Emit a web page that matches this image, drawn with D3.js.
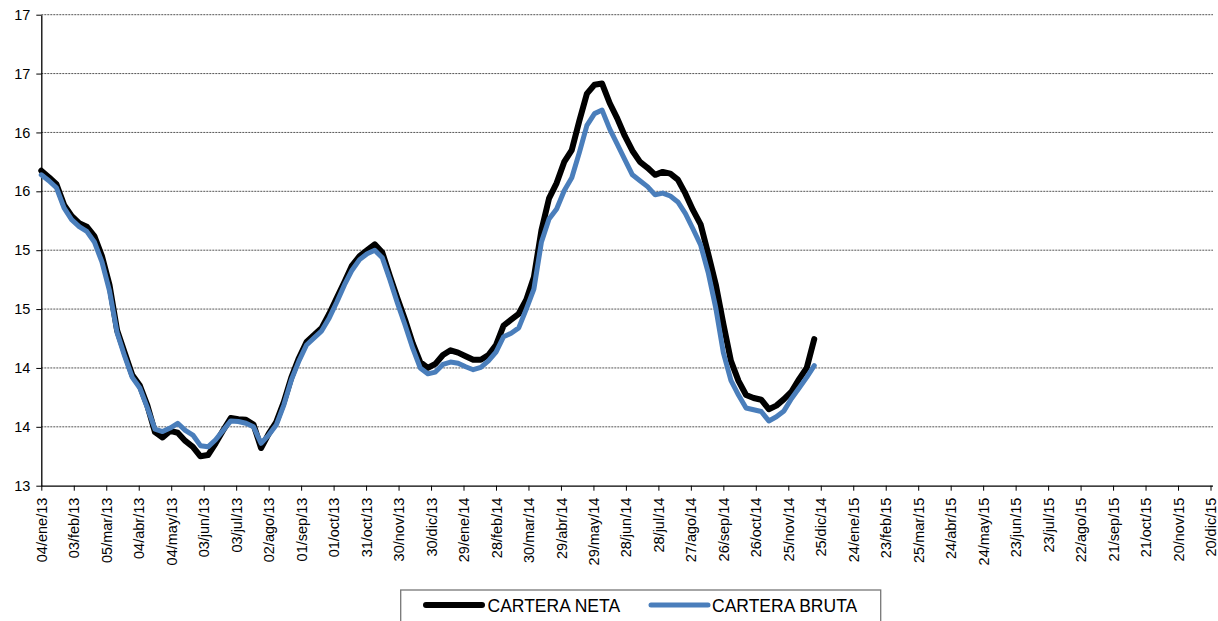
<!DOCTYPE html>
<html>
<head>
<meta charset="utf-8">
<script src="https://cdn.jsdelivr.net/npm/d3@7/dist/d3.min.js"></script>
<style>
  html, body { margin: 0; padding: 0; background: #fff; }
  svg { display: block; font-family: "Liberation Sans", Arial, sans-serif; }
</style>
</head>
<body>
<svg id="chart" width="1218" height="621"></svg>
<script>
// Weekly series, first observation on 04/ene/2013
const startDate = "2013-01-04";

const carteraNeta = [
  15.675, 15.62, 15.56, 15.385, 15.29, 15.23, 15.20, 15.12, 14.95, 14.705,
  14.32, 14.13, 13.94, 13.85, 13.68, 13.455, 13.41, 13.465, 13.45, 13.38,
  13.33, 13.25, 13.26, 13.36, 13.47, 13.575, 13.565, 13.56, 13.52, 13.32,
  13.44, 13.54, 13.71, 13.92, 14.085, 14.22, 14.28, 14.34, 14.46, 14.595,
  14.73, 14.87, 14.95, 15.00, 15.05, 14.98, 14.78, 14.59, 14.41, 14.21,
  14.05, 14.00, 14.035, 14.11, 14.15, 14.13, 14.10, 14.07, 14.07, 14.11,
  14.195, 14.36, 14.41, 14.46, 14.58, 14.77, 15.17, 15.44, 15.57, 15.75,
  15.85, 16.10, 16.33, 16.405, 16.415, 16.25, 16.12, 15.97, 15.845, 15.75,
  15.70, 15.64, 15.665, 15.65, 15.60, 15.48, 15.34, 15.22, 14.97, 14.71,
  14.375, 14.06, 13.89, 13.77, 13.745, 13.73, 13.65, 13.68, 13.735, 13.80,
  13.905, 14.00, 14.245
];

const carteraBruta = [
  15.64, 15.59, 15.53, 15.36, 15.26, 15.20, 15.16, 15.07, 14.90, 14.655,
  14.30, 14.10, 13.92, 13.83, 13.66, 13.48, 13.46, 13.49, 13.53, 13.47,
  13.43, 13.34, 13.33, 13.39, 13.47, 13.55, 13.545, 13.53, 13.50, 13.36,
  13.43, 13.515, 13.685, 13.90, 14.06, 14.195, 14.255, 14.315, 14.425, 14.56,
  14.705, 14.83, 14.92, 14.97, 15.00, 14.935, 14.75, 14.55, 14.365, 14.17,
  14.00, 13.95, 13.965, 14.03, 14.05, 14.04, 14.01, 13.985, 14.005, 14.06,
  14.135, 14.265, 14.295, 14.34, 14.50, 14.67, 15.07, 15.265, 15.35, 15.505,
  15.615, 15.83, 16.06, 16.16, 16.19, 16.03, 15.90, 15.77, 15.64, 15.59,
  15.54, 15.47, 15.485, 15.46, 15.41, 15.31, 15.18, 15.045, 14.81, 14.51,
  14.13, 13.895, 13.77, 13.66, 13.645, 13.63, 13.55, 13.585, 13.635, 13.74,
  13.83, 13.92, 14.02
];

const seriesNames = ["CARTERA NETA", "CARTERA BRUTA"];
const seriesColors = ["#000000", "#4a7ebb"];

// Category axis: one label every 30 days
const xTickLabels = [
  "04/ene/13", "03/feb/13", "05/mar/13", "04/abr/13", "04/may/13", "03/jun/13",
  "03/jul/13", "02/ago/13", "01/sep/13", "01/oct/13", "31/oct/13", "30/nov/13",
  "30/dic/13", "29/ene/14", "28/feb/14", "30/mar/14", "29/abr/14", "29/may/14",
  "28/jun/14", "28/jul/14", "27/ago/14", "26/sep/14", "26/oct/14", "25/nov/14",
  "25/dic/14", "24/ene/15", "23/feb/15", "25/mar/15", "24/abr/15", "24/may/15",
  "23/jun/15", "23/jul/15", "22/ago/15", "21/sep/15", "21/oct/15", "20/nov/15",
  "20/dic/15"
];

const yTickValues = [13, 13.5, 14, 14.5, 15, 15.5, 16, 16.5, 17];
const yTickLabels = ["13", "14", "14", "15", "15", "16", "16", "17", "17"];

const svg = d3.select("#chart");

const plot = { left: 41.3, right: 1210.5, top: 14.7, bottom: 485.7 };

const t0 = new Date(startDate + "T00:00:00Z");
const tickDates = xTickLabels.map((_, i) => d3.utcDay.offset(t0, 30 * i));
const dataDates = carteraNeta.map((_, i) => d3.utcDay.offset(t0, 7 * i));

const x = d3.scaleUtc()
  .domain([tickDates[0], tickDates[tickDates.length - 1]])
  .range([plot.left, plot.right]);

const y = d3.scaleLinear()
  .domain([13, 17])
  .range([plot.bottom, plot.top]);

// Horizontal dotted gridlines
svg.append("g")
  .selectAll("line")
  .data(yTickValues.filter(v => v > 13))
  .join("line")
  .attr("x1", plot.left)
  .attr("x2", 1213)
  .attr("y1", d => y(d))
  .attr("y2", d => y(d))
  .attr("stroke", "#555")
  .attr("stroke-width", 1)
  .attr("stroke-dasharray", "2,1");

// Y axis
const yAxis = d3.axisLeft(y)
  .tickValues(yTickValues)
  .tickFormat((d, i) => yTickLabels[i])
  .tickSize(5)
  .tickSizeOuter(0)
  .tickPadding(6);

const gy = svg.append("g")
  .attr("transform", `translate(${plot.left},0)`)
  .call(yAxis);
gy.select(".domain").attr("stroke", "#000").attr("stroke-width", 1.3);
gy.selectAll(".tick line").attr("stroke", "#000");
gy.selectAll(".tick text")
  .attr("fill", "#000")
  .style("font-size", "14.5px")
  .style("font-family", "'Liberation Sans', Arial, sans-serif");

// X axis
const xAxis = d3.axisBottom(x)
  .tickValues(tickDates)
  .tickFormat((d, i) => xTickLabels[i])
  .tickSize(5)
  .tickSizeOuter(0);

const gx = svg.append("g")
  .attr("transform", `translate(0,${plot.bottom})`)
  .call(xAxis);
gx.select(".domain")
  .attr("d", `M${plot.left},0.5H1213`)
  .attr("stroke", "#000")
  .attr("stroke-width", 1.3);
gx.selectAll(".tick line").attr("stroke", "#000");
gx.selectAll(".tick text")
  .attr("fill", "#000")
  .style("font-size", "14.5px")
  .style("font-family", "'Liberation Sans', Arial, sans-serif")
  .attr("text-anchor", "end")
  .attr("dy", "0.35em")
  .attr("transform", "rotate(-90)")
  .attr("x", -12)
  .attr("y", 0);

// Series lines
const line = d3.line()
  .x((d, i) => x(dataDates[i]))
  .y(d => y(d));

const seriesData = [carteraNeta, carteraBruta];
const widths = [6, 5];

svg.append("g")
  .selectAll("path")
  .data(seriesData)
  .join("path")
  .attr("d", d => line(d))
  .attr("fill", "none")
  .attr("stroke", (d, i) => seriesColors[i])
  .attr("stroke-width", (d, i) => widths[i])
  .attr("stroke-linejoin", "round")
  .attr("stroke-linecap", "round");

// Legend
const legend = svg.append("g");
legend.append("rect")
  .attr("x", 400.7)
  .attr("y", 590)
  .attr("width", 480)
  .attr("height", 60)
  .attr("fill", "#fff")
  .attr("stroke", "#777")
  .attr("stroke-width", 1.3);

const legendItems = [
  { x1: 426, x2: 482, tx: 487.5 },
  { x1: 651, x2: 708, tx: 712 }
];

legendItems.forEach((it, i) => {
  legend.append("line")
    .attr("x1", it.x1).attr("x2", it.x2)
    .attr("y1", 605).attr("y2", 605)
    .attr("stroke", seriesColors[i])
    .attr("stroke-width", widths[i])
    .attr("stroke-linecap", "round");
  legend.append("text")
    .attr("x", it.tx)
    .attr("y", 611.7)
    .attr("fill", "#000")
    .style("font-size", "17.5px")
    .style("font-family", "'Liberation Sans', Arial, sans-serif")
    .text(seriesNames[i]);
});
</script>
</body>
</html>
